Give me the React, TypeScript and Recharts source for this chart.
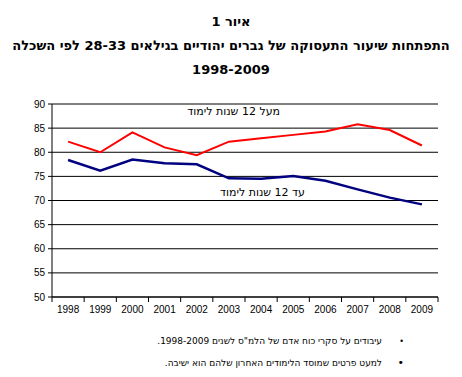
import React from "react";
import {
  LineChart,
  Line,
  XAxis,
  YAxis,
  CartesianGrid,
  ReferenceLine,
} from "recharts";

const years = ["1998", "1999", "2000", "2001", "2002", "2003", "2004", "2005", "2006", "2007", "2008", "2009"];
const above12 = [82.2, 80.0, 84.1, 81.0, 79.4, 82.2, 82.9, 83.6, 84.3, 85.8, 84.6, 81.4];
const upTo12 = [78.4, 76.2, 78.5, 77.7, 77.5, 74.6, 74.5, 75.1, 74.1, 72.3, 70.6, 69.2];
const yTicks = [50, 55, 60, 65, 70, 75, 80, 85, 90];

const titleLines = [
  "איור 1",
  "התפתחות שיעור התעסוקה של גברים יהודיים בגילאים 28-33 לפי השכלה",
  "1998-2009",
];
const labelAbove = "מעל 12 שנות לימוד";
const labelUpTo = "עד 12 שנות לימוד";
const notes = [
  "עיבודים על סקרי כוח אדם של הלמ\"ס לשנים 1998-2009.",
  "למעט פרטים שמוסד הלימודים האחרון שלהם הוא ישיבה.",
];

const data = years.map((y, i) => ({ year: y, above: above12[i], upto: upTo12[i] }));

const PLOT_LEFT = 52;
const PLOT_RIGHT = 438;
const BAND = (PLOT_RIGHT - PLOT_LEFT) / years.length;

const XTick = (props: any) => {
  const { x, payload, index } = props;
  const axisY = 297;
  return (
    <g>
      <line x1={x - BAND / 2} x2={x - BAND / 2} y1={axisY} y2={axisY + 5} stroke="#000" />
      {index === years.length - 1 && (
        <line x1={x + BAND / 2} x2={x + BAND / 2} y1={axisY} y2={axisY + 5} stroke="#000" />
      )}
      <text x={x} y={axisY + 16} textAnchor="middle" fontSize={10} fill="#000"
        fontFamily="'Liberation Sans', sans-serif">
        {payload.value}
      </text>
    </g>
  );
};

export default function App() {
  return (
    <div style={{ position: "absolute", left: 0, top: 0, width: 462, height: 377, background: "#fff" }}>
      <div dir="rtl" style={{ position: "absolute", left: 0, top: 10, width: 462, textAlign: "center",
        fontFamily: "'DejaVu Sans', sans-serif", fontWeight: "bold", fontSize: 13, lineHeight: "24px", color: "#000" }}>
        {titleLines.map((t, i) => (
          <div key={i}>{t}</div>
        ))}
      </div>
      <LineChart width={462} height={377} data={data}
        margin={{ top: 104, right: 24, left: 22, bottom: 50 }}>
        <CartesianGrid vertical={false} stroke="#000" strokeWidth={1} />
        <XAxis dataKey="year" stroke="#000" tickLine={false} tick={<XTick />} height={30} interval={0}
          padding={{ left: BAND / 2, right: BAND / 2 }} />
        <YAxis domain={[50, 90]} ticks={yTicks} stroke="#000" width={30} tickSize={4} tickMargin={3}
          tick={{ fontSize: 10, fill: "#000", fontFamily: "'Liberation Sans', sans-serif" }} />
        <YAxis yAxisId="r" orientation="right" width={0} stroke="#808080" tick={false} tickLine={false} />
        <ReferenceLine y={90} stroke="#808080" />
        <Line dataKey="above" stroke="#ff0000" strokeWidth={2} dot={false} isAnimationActive={false} />
        <Line dataKey="upto" stroke="#000080" strokeWidth={2.5} dot={false} isAnimationActive={false} />
      </LineChart>
      <div dir="rtl" style={{ position: "absolute", right: 462 - 280, top: 105, fontFamily: "'DejaVu Sans', sans-serif",
        fontSize: 11, color: "#000", whiteSpace: "nowrap" }}>
        {labelAbove}
      </div>
      <div dir="rtl" style={{ position: "absolute", right: 462 - 305, top: 186, fontFamily: "'DejaVu Sans', sans-serif",
        fontSize: 11, color: "#000", whiteSpace: "nowrap" }}>
        {labelUpTo}
      </div>
      {notes.map((n, i) => (
        <div key={i} dir="rtl" style={{ position: "absolute", right: 462 - 404, top: 336 + i * 20,
          fontFamily: "'DejaVu Sans', sans-serif", fontSize: 9, color: "#000", whiteSpace: "nowrap" }}>
          <span style={{ display: "inline-block", width: 22, fontSize: i === 0 ? 8 : 11 }}>•</span>
          {n}
        </div>
      ))}
    </div>
  );
}
